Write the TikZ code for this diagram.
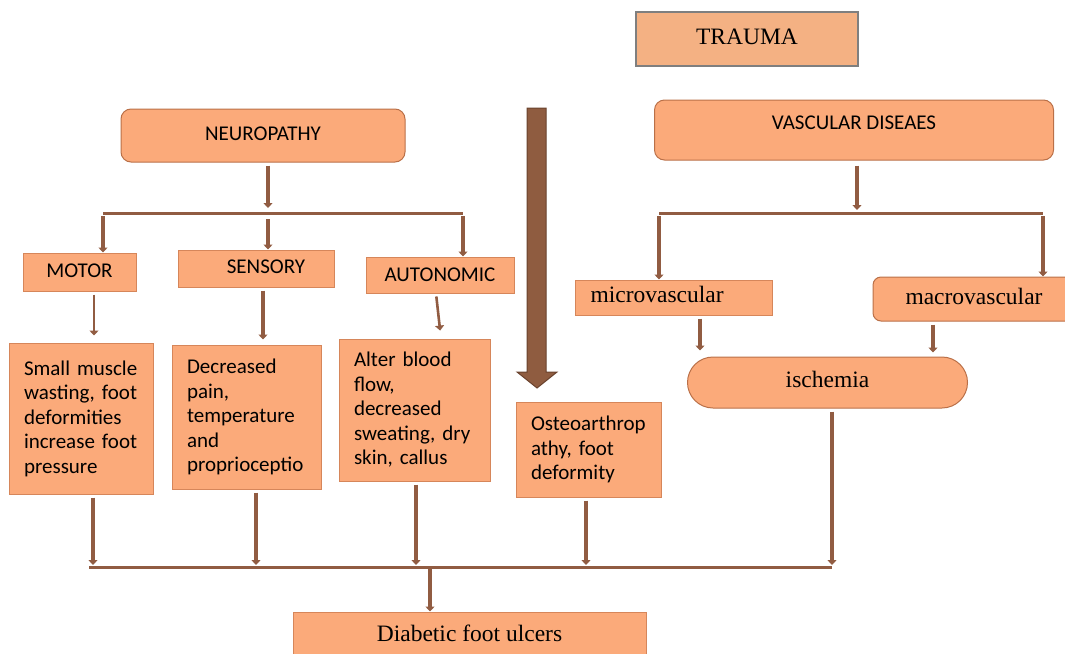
\documentclass[tikz,border=0pt]{standalone}
\usepackage{fontspec}
\setmainfont{Liberation Serif}
\newfontfamily\calibri{Carlito}
\usepackage{xcolor}
\usetikzlibrary{arrows.meta}

\definecolor{boxfill}{RGB}{251,170,122}
\definecolor{boxline}{RGB}{214,134,90}
\definecolor{roundline}{RGB}{186,112,72}
\definecolor{traumafill}{RGB}{244,177,131}
\definecolor{traumaline}{RGB}{127,127,127}
\definecolor{linkcol}{RGB}{145,92,66}
\definecolor{bigarrow}{RGB}{143,92,64}
\definecolor{bigarrowline}{RGB}{105,66,45}

\begin{document}
\begin{tikzpicture}[x=1pt, y=-1pt]
    % Define styles
    \tikzstyle{sans}=[font=\calibri\fontsize{21}{24.5}\selectfont]
    \tikzstyle{serif}=[font=\fontsize{23.5}{27}\selectfont]
    \tikzstyle{box}=[draw=boxline, fill=boxfill, line width=1pt, inner sep=0pt, text height=15pt, text depth=5pt]
    \tikzstyle{round box}=[box, draw=roundline, rounded corners=10pt]
    \tikzstyle{para box}=[draw=boxline, fill=boxfill, line width=1pt, sans, align=left, inner xsep=15pt, inner ysep=0pt]
    \tikzstyle{link}=[draw=linkcol, line width=3.6pt, -{Triangle[width=9pt,length=5pt]}, shorten <=3pt]
    \tikzstyle{bold link}=[link, line width=4pt]
    \tikzstyle{bus}=[draw=linkcol, line width=3pt]

    \clip (0,0) rectangle (1065,653);

    % Draw the boxes
    \node[box, serif, fill=traumafill, draw=traumaline, line width=1.5pt, minimum width=222pt, minimum height=54pt] (trauma) at (747,39) {TRAUMA};
    \node[round box, sans, minimum width=284pt, minimum height=53pt] (neuro) at (263,135.5) {NEUROPATHY};
    \node[round box, sans, minimum width=399pt, minimum height=60pt, text depth=16pt] (vasc) at (854,130) {VASCULAR DISEAES};

    \node[box, sans, minimum width=113pt, minimum height=38pt] (motor) at (79.5,272) {MOTOR};
    \node[box, sans, minimum width=156pt, minimum height=37pt] (sensory) at (256,268.5) {\hspace*{20pt}SENSORY};
    \node[box, sans, minimum width=148pt, minimum height=36pt, text depth=2pt] (autonomic) at (440,275) {AUTONOMIC};

    \node[box, serif, text width=167pt, inner xsep=15pt, align=left, minimum height=35pt] (micro) at (674,297.5) {microvascular};
    \node[box, serif, draw=roundline, rounded corners=8pt, minimum width=202pt, minimum height=44pt] (macro) at (974,299) {macrovascular};
    \node[box, serif, draw=roundline, rounded corners=25.5pt, minimum width=280pt, minimum height=51pt] (isch) at (827.5,382.5) {ischemia};

    \foreach \name/\x/\y/\w/\h/\txt in {
        small/81/418.5/144/151/{Small muscle\\wasting, foot\\deformities\\increase foot\\pressure},
        decr/246.5/417/149/144/{Decreased\\pain,\\temperature\\and\\proprioceptio},
        alter/414.5/410/151/142/{Alter blood\\flow,\\decreased\\sweating, dry\\skin, callus},
        osteo/588.5/449.5/145/95/{Osteoarthrop\\athy, foot\\deformity}}
        \node[para box, text width=\w pt-30pt, minimum height=\h pt] (\name) at (\x,\y) {\txt};

    \node[box, serif, minimum width=353pt, minimum height=48pt] (diab) at (469.5,636) {Diabetic foot ulcers};

    % Trauma arrow
    \filldraw[fill=bigarrow, draw=bigarrowline, line width=1pt]
        (527,108) -- (546,108) -- (546,372) -- (557,372) -- (537,388) -- (517,372) -- (527,372) -- cycle;

    % Neuropathy branches
    \coordinate (nb) at (268,213);
    \coordinate (nl) at (103,213);
    \coordinate (nr) at (463,213);
    \draw[bold link] (neuro.south -| nb) -- ([yshift=5pt]nb);
    \draw[bus] (nl) -- (nr);
    \draw[bold link] (nl) -- (nl |- motor.north);
    \draw[bold link] ([yshift=-3pt]nb) -- (nb |- sensory.north);
    \draw[bold link] (nr) -- (nr |- autonomic.north);

    \draw[link, line width=2.6pt, shorten >=7pt] ([xshift=14.5pt]motor.south) -- ([xshift=14.5pt]motor.south |- small.north);
    \draw[bold link, shorten >=5pt] ([xshift=7pt]sensory.south) -- ([xshift=7pt]sensory.south |- decr.north);
    \draw[link, line width=2.6pt, shorten >=8pt] ([xshift=-4pt]autonomic.south) -- ([xshift=26.5pt]alter.north);

    % Vascular branches
    \coordinate (vb) at (857,213);
    \coordinate (vl) at (659,213);
    \coordinate (vr) at (1043,213);
    \draw[link, shorten <=5pt] (vasc.south -| vb) -- ([yshift=3pt]vb);
    \draw[bus] (vl) -- (vr);
    \draw[link] (vl) -- (vl |- micro.north);
    \draw[link] (vr) -- (vr |- macro.north);
    \draw[link, shorten >=6pt] ([xshift=26pt]micro.south) -- ([xshift=26pt]micro.south |- isch.north);
    \draw[link, shorten >=4pt] ([xshift=-41pt]macro.south) -- ([xshift=-41pt]macro.south |- isch.north);

    % Down to the ulcers
    \coordinate (bl) at (89,567);
    \coordinate (br) at (832,567);
    \coordinate (bd) at (430,567);
    \foreach \src/\dx in {small/12, decr/9.5, alter/1.5, osteo/-2.5, isch/4.5}
        \draw[link] ([xshift=\dx pt]\src.south) -- ([xshift=\dx pt, yshift=2pt]\src.south |- bl);
    \draw[bus] (bl) -- (br);
    \draw[link, shorten <=0pt] (bd) -- (diab.north -| bd);
\end{tikzpicture}
\end{document}
